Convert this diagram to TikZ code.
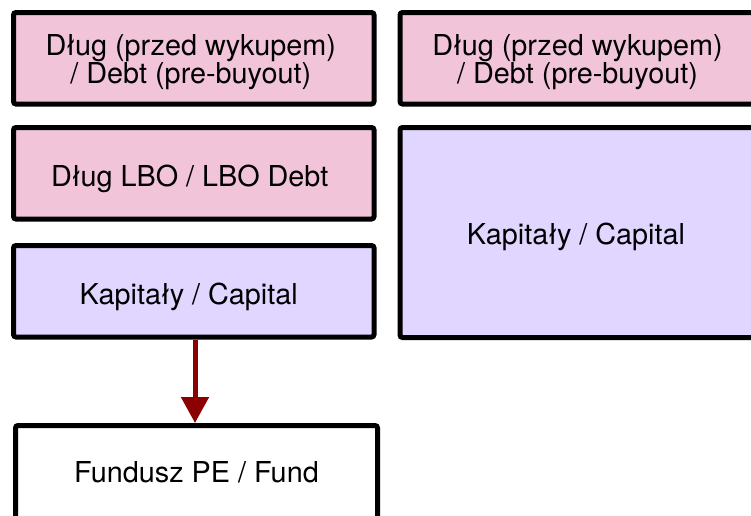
\documentclass[tikz,border=0pt]{standalone}
\usepackage{fontspec}
\setmainfont{TeX Gyre Heros}
\usetikzlibrary{arrows.meta}
\definecolor{debtpink}{RGB}{242,196,218}
\definecolor{capviolet}{RGB}{224,214,255}
\definecolor{flowred}{RGB}{139,0,0}
\begin{document}
\begin{tikzpicture}[x=1pt,y=1pt,
  block/.style={draw=black, line width=5pt, rounded corners=2.5pt, inner sep=0pt},
  debt/.style={block, fill=debtpink},
  capital/.style={block, fill=capviolet},
  fund/.style={block, fill=white},
  caption/.style={inner sep=0pt, align=center, font=\fontsize{28.8}{28}\selectfont},
  flow/.style={draw=flowred, line width=5pt, -{Triangle[width=27pt,length=26pt]}}]
\useasboundingbox (0,0) rectangle (751,-515);
% blocks: after the buyout on the left, before it on the right
\node[debt, minimum width=360.5pt, minimum height=91.5pt] (predebtL) at (193.75,-58.25) {};
\node[debt, minimum width=355pt, minimum height=91.5pt] (predebtR) at (577.5,-58.25) {};
\node[debt, minimum width=360.5pt, minimum height=91.5pt] (lbo) at (193.75,-173.25) {};
\node[capital, minimum width=355pt, minimum height=210pt] (capR) at (577.5,-232.5) {};
\node[capital, minimum width=360.5pt, minimum height=91.5pt] (capL) at (193.75,-291.25) {};
\node[fund, minimum width=362pt, minimum height=93.5pt] (fund) at (196.5,-472.25) {};
% captions
\node[caption] (predebtLtxt) at ([xshift=-3pt,yshift=-4pt]predebtL.center)
  {Dług (przed wykupem)\\/ Debt (pre-buyout)};
\node[caption] (predebtRtxt) at ([yshift=-4pt]predebtR.center)
  {Dług (przed wykupem)\\/ Debt (pre-buyout)};
\node[caption] (lbotxt) at ([xshift=-4pt,yshift=-5.5pt]lbo.center) {Dług LBO / LBO Debt};
\node[caption] (capRtxt) at ([xshift=-1.5pt,yshift=-4.5pt]capR.center) {Kapitały / Capital};
\node[caption] (capLtxt) at ([xshift=-5pt,yshift=-6pt]capL.center) {Kapitały / Capital};
\node[caption] (fundtxt) at ([yshift=-0.5pt]fund.center) {Fundusz PE / Fund};
% equity goes to the fund
\draw[flow] ([xshift=1.25pt]capL.south) -- ([xshift=1.25pt]capL.south |- fund.north);
\end{tikzpicture}
\end{document}
